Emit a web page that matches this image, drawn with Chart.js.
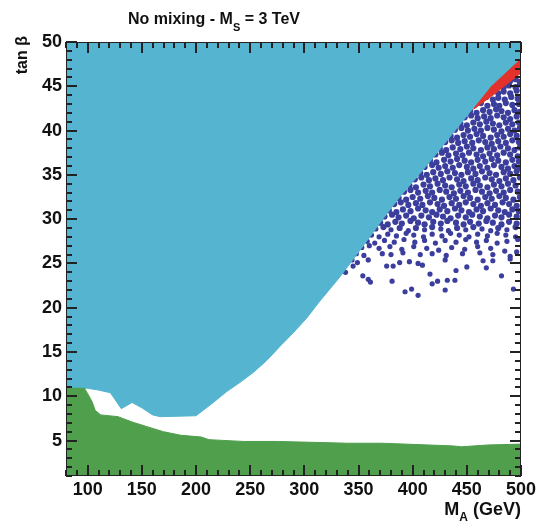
<!DOCTYPE html>
<html><head><meta charset="utf-8">
<script src="https://cdn.jsdelivr.net/npm/chart.js@4"></script>
<style>html,body{margin:0;padding:0;background:#fff;}</style>
</head><body>
<canvas id="c" width="549" height="528"></canvas>
<script>
// ---- data ----
const xTickLabels = [100,150,200,250,300,350,400,450,500];
const yTickLabels = [5,10,15,20,25,30,35,40,45,50];

// lower edge of the excluded (cyan) region
const cyanEdgeX = [80,100,110,121,131,141,150,160,167,200,216,228,241,253,265,278,290,302,314,333,352,373,388,400,416,447,472,500];
const cyanEdgeY = [10.9,10.9,10.7,10.4,8.6,9.3,8.7,7.9,7.7,7.8,9.3,10.5,11.6,12.7,14.0,15.7,17.2,18.8,20.7,23.5,26.6,30.1,32.5,34.2,36.5,41.2,45.0,48.2];

// upper edge of the LEP-excluded (green) region
const greenEdgeX = [80,97,100,104,107,112,128,141,154,170,186,205,212,244,276,308,340,372,404,437,445,469,500];
const greenEdgeY = [10.9,10.9,10.3,9.4,8.4,7.9,7.7,7.1,6.6,6.0,5.6,5.4,5.1,4.9,4.9,4.8,4.7,4.7,4.55,4.4,4.3,4.5,4.6];

// lower edge of the red band
const redEdgeX = [456,474,500];
const redEdgeY = [42.4,44.0,46.5];

// scan points (blue)
const bluePoints = [
[478,45.7],[484,45.9],[490,45.6],[495,45.8],[499,45.5],
[472,45.0],[478,45.2],[484,44.9],[489,45.1],[495,44.9],[499,45.2],
[467,44.3],[473,44.5],[479,44.2],[484,44.4],[490,44.2],[496,44.5],
[462,43.6],[468,43.8],[474,43.5],[479,43.7],[485,43.5],[491,43.8],[497,43.6],
[457,42.9],[463,43.1],[469,42.8],[475,43.0],[480,42.8],[486,43.1],[492,42.9],[498,43.0],
[453,42.2],[459,42.0],[465,42.3],[471,42.1],[477,42.4],[482,42.2],[488,42.0],[494,42.3],[499,42.1],
[448,41.5],[454,41.7],[460,41.4],[466,41.6],[472,41.4],[478,41.7],[484,41.5],[490,41.3],[496,41.6],
[444,40.8],[450,40.6],[456,40.9],[462,40.7],[468,41.0],[474,40.8],[480,40.6],[486,40.9],[492,40.7],[498,40.9],
[439,40.1],[445,40.3],[451,40.0],[457,40.2],[463,40.0],[469,40.3],[475,40.1],[482,39.9],[488,40.2],[494,40.0],[499,40.3],
[435,39.4],[441,39.2],[447,39.5],[453,39.3],[459,39.6],[465,39.4],[472,39.2],[478,39.5],[484,39.3],[490,39.6],[496,39.4],
[430,38.7],[436,38.9],[442,38.6],[448,38.8],[455,38.6],[461,38.9],[467,38.7],[473,38.5],[479,38.8],[486,38.6],[492,38.9],[498,38.7],
[425,38.0],[431,37.8],[437,38.1],[444,37.9],[450,38.2],[456,38.0],[463,37.8],[469,38.1],[475,37.9],[481,38.2],[488,38.0],[494,37.8],[499,38.1],
[421,37.3],[427,37.5],[433,37.2],[440,37.4],[446,37.2],[452,37.5],[459,37.3],[465,37.1],[471,37.4],[478,37.2],[484,37.5],[490,37.3],[497,37.1],
[416,36.6],[422,36.4],[429,36.7],[435,36.5],[441,36.8],[448,36.6],[454,36.4],[460,36.7],[467,36.5],[473,36.8],[479,36.6],[486,36.4],[492,36.7],[498,36.5],
[411,35.9],[418,36.1],[424,35.8],[430,36.0],[437,35.8],[443,36.1],[450,35.9],[456,35.7],[462,36.0],[469,35.8],[475,36.1],[482,35.9],[488,35.7],[494,36.0],[499,35.8],
[407,35.2],[413,35.0],[419,35.3],[426,35.1],[432,35.4],[439,35.2],[445,35.0],[451,35.3],[458,35.1],[464,35.4],[471,35.2],[477,35.0],[484,35.3],[490,35.1],[496,35.4],
[402,34.5],[408,34.7],[415,34.4],[421,34.6],[428,34.4],[434,34.7],[441,34.5],[447,34.3],[454,34.6],[460,34.4],[467,34.7],[473,34.5],[480,34.3],[486,34.6],[493,34.4],[499,34.7],
[397,33.8],[403,33.6],[410,33.9],[416,33.7],[423,34.0],[430,33.8],[436,33.6],[443,33.9],[449,33.7],[456,34.0],[462,33.8],[469,33.6],[475,33.9],[482,33.7],[488,34.0],[495,33.8],
[392,33.1],[398,33.3],[405,33.0],[412,33.2],[418,33.0],[425,33.3],[431,33.1],[438,32.9],[444,33.2],[451,33.0],[458,33.3],[464,33.1],[471,32.9],[477,33.2],[484,33.0],[490,33.3],[497,33.1],
[387,32.4],[394,32.2],[400,32.5],[407,32.3],[414,32.6],[420,32.4],[427,32.2],[434,32.5],[440,32.3],[447,32.6],[453,32.4],[460,32.2],[467,32.5],[473,32.3],[480,32.6],[486,32.4],[493,32.2],[499,32.5],
[383,31.7],[389,31.9],[396,31.6],[403,31.8],[409,31.6],[416,31.9],[423,31.7],[429,31.5],[436,31.8],[443,31.6],[449,31.9],[456,31.7],[463,31.5],[469,31.8],[476,31.6],[483,31.9],[489,31.7],[496,31.5],
[378,31.0],[385,30.8],[391,31.1],[398,30.9],[405,31.2],[412,31.0],[418,30.8],[425,31.1],[432,30.9],[439,31.2],[445,31.0],[452,30.8],[459,31.1],[465,30.9],[472,31.2],[479,31.0],[485,30.8],[492,31.1],[498,30.9],
[374,30.3],[381,30.5],[387,30.2],[394,30.4],[401,30.1],[408,30.4],[415,30.2],[422,30.5],[428,30.3],[435,30.1],[442,30.4],[449,30.2],[455,30.5],[462,30.3],[469,30.1],[476,30.4],[482,30.2],[489,30.5],[496,30.3],
[370,29.6],[377,29.4],[384,29.7],[390,29.5],[398,29.8],[405,29.6],[411,29.4],[419,29.7],[426,29.5],[432,29.8],[440,29.6],[447,29.4],[453,29.7],[461,29.5],[468,29.8],[474,29.6],[482,29.4],[489,29.7],[496,29.5],
[366,28.9],[373,29.1],[380,28.8],[388,29.0],[396,28.7],[403,29.0],[411,28.8],[418,29.1],[426,28.9],[433,28.7],[441,29.0],[449,28.8],[456,29.1],[464,28.9],[472,28.7],[479,29.0],[487,28.8],[495,29.1],
[362,28.2],[369,28.0],[377,28.3],[385,28.1],[394,28.4],[401,28.2],[410,28.0],[418,28.3],[427,28.1],[435,28.4],[443,28.2],[452,28.0],[460,28.3],[469,28.1],[478,28.4],[486,28.2],[495,28.0],
[358,27.5],[365,27.3],[374,27.6],[383,27.4],[392,27.7],[402,27.4],[411,27.6],[421,27.3],[430,27.6],[440,27.4],[449,27.7],[459,27.4],[468,27.6],[478,27.3],[487,27.5],[497,27.7],
[353,26.8],[360,27.0],[369,26.7],[379,26.9],[390,26.6],[401,26.9],[413,26.7],[424,26.5],[436,26.8],[448,26.6],[460,26.9],[472,26.7],[485,26.4],[496,26.3],
[348,26.1],[355,25.9],[372,26.1],[380,26.0],[391,26.2],[407,26.0],[418,26.1],[431,25.9],[446,26.1],[462,26.2],[474,26.0],[490,25.8],
[344,25.4],[349,25.1],[359,25.4],[388,25.1],[397,25.2],[405,25.0],[430,25.4],[465,25.3],[474,25.3],[490,25.5],
[345,24.7],[376,24.7],[382,24.7],[409,24.8],[450,24.6],[468,24.5],
[338,24.0],[354,23.6],[416,23.8],[482,23.6],[440,24.2],
[359,23.2],[361,22.9],[381,23.0],[418,22.7],[423,23.0],[432,23.1],[439,23.1],
[393,21.8],[399,22.1],[430,22.0],[493,22.1],[405,21.4]
];

// ---- colours ----
const CYAN = '#55b4cf', GREEN = '#4f9f4d', BLUE = '#3b3e9c', RED = '#e2322b';
const FONT = "'Liberation Sans', Arial, Helvetica, sans-serif";

const toXY = (xs, ys) => xs.map((x, i) => ({x, y: ys[i]}));

const decor = {
  id: 'decor',
  afterDraw(chart) {
    const ctx = chart.ctx, a = chart.chartArea, xs = chart.scales.x, ys = chart.scales.y;
    ctx.save();
    ctx.fillStyle = '#222';
    const L = Math.round(a.left), R = Math.round(a.right), T = Math.round(a.top), B = Math.round(a.bottom);
    // x ticks (inward, bottom and top)
    for (let v = 80; v <= 500; v += 10) {
      const p = Math.round(xs.getPixelForValue(v));
      const len = (v % 50 === 0) ? 11 : 6;
      ctx.fillRect(p - 1, B - len, 2, len);
      ctx.fillRect(p - 1, T, 2, len);
    }
    // y ticks (inward, left and right)
    for (let v = 1; v <= 50; v += 1) {
      const p = Math.round(ys.getPixelForValue(v));
      const len = (v % 5 === 0) ? 11 : 6;
      ctx.fillRect(L, p - 1, len, 2);
      ctx.fillRect(R - len, p - 1, len, 2);
    }
    // frame
    ctx.fillRect(L, T, R - L, 1);
    ctx.fillRect(L, B - 1, R - L, 1);
    ctx.fillRect(L, T, 1, B - T);
    ctx.fillRect(R - 1, T, 1, B - T);

    ctx.fillStyle = '#111';
    ctx.textBaseline = 'alphabetic';
    // title
    const big = 'bold 16px ' + FONT, small = 'bold 11px ' + FONT;
    ctx.font = big; const t1 = 'No mixing - M', t3 = ' = 3 TeV';
    const w1 = ctx.measureText(t1).width, w3 = ctx.measureText(t3).width;
    ctx.font = small; const w2 = ctx.measureText('S').width;
    let x0 = 214 - (w1 + w2 + w3) / 2;
    ctx.textAlign = 'left';
    ctx.font = big; ctx.fillText(t1, x0, 24);
    ctx.font = small; ctx.fillText('S', x0 + w1, 31);
    ctx.font = big; ctx.fillText(t3, x0 + w1 + w2, 24);

    // x axis title, right aligned to plot edge
    const bx = 'bold 18px ' + FONT, sx = 'bold 12px ' + FONT;
    ctx.font = bx; const m = 'M', g = ' (GeV)';
    const wm = ctx.measureText(m).width, wg = ctx.measureText(g).width;
    ctx.font = sx; const wa = ctx.measureText('A').width;
    let xx = a.right - (wm + wa + wg);
    ctx.font = bx; ctx.fillText(m, xx, 515);
    ctx.font = sx; ctx.fillText('A', xx + wm, 521);
    ctx.font = bx; ctx.fillText(g, xx + wm + wa, 515);

    // y axis title
    ctx.translate(27, 36);
    ctx.rotate(-Math.PI / 2);
    ctx.textAlign = 'right';
    ctx.font = 'bold 16px ' + FONT;
    ctx.fillText('tan \u03B2', 0, 0);
    ctx.restore();
  }
};

new Chart(document.getElementById('c'), {
  type: 'line',
  data: {
    datasets: [
      { label: 'LEP', data: toXY(greenEdgeX, greenEdgeY), fill: 'start', backgroundColor: GREEN,
        borderColor: GREEN, borderWidth: 1, pointRadius: 0, tension: 0, order: 0 },
      { label: 'excluded', data: toXY(cyanEdgeX, cyanEdgeY), fill: 'end', backgroundColor: CYAN,
        borderColor: CYAN, borderWidth: 1, pointRadius: 0, tension: 0, order: 1 },
      { label: 'red', data: toXY(redEdgeX, redEdgeY), fill: 'end', backgroundColor: RED,
        borderColor: RED, borderWidth: 1, pointRadius: 0, tension: 0, order: 2 },
      { label: 'points', data: bluePoints.map(p => ({x: p[0], y: p[1]})), showLine: false,
        pointRadius: c => (c.raw && c.raw.y >= 29) ? 3.1 : 2.6,
        pointBorderWidth: 0, pointBackgroundColor: BLUE, pointBorderColor: BLUE, order: 3 }
    ]
  },
  options: {
    responsive: false, animation: false, devicePixelRatio: 1,
    layout: { padding: { left: 0, top: 42, right: 28, bottom: 0 } },
    plugins: { legend: { display: false }, tooltip: { enabled: false }, title: { display: false } },
    scales: {
      x: {
        type: 'linear', min: 80, max: 500,
        grid: { display: false, drawTicks: false }, border: { display: false },
        ticks: { color: '#111', padding: 3, maxRotation: 0, autoSkip: false,
                 font: { family: FONT, size: 18, weight: 'bold' } },
        afterBuildTicks: s => { s.ticks = xTickLabels.map(v => ({ value: v })); },
        afterFit: s => { s.height = 52; }
      },
      y: {
        type: 'linear', min: 1, max: 50,
        grid: { display: false, drawTicks: false }, border: { display: false },
        ticks: { color: '#111', padding: 4, autoSkip: false,
                 font: { family: FONT, size: 18, weight: 'bold' } },
        afterBuildTicks: s => { s.ticks = yTickLabels.map(v => ({ value: v })); },
        afterFit: s => { s.width = 66; }
      }
    }
  },
  plugins: [decor]
});
</script>
</body></html>
